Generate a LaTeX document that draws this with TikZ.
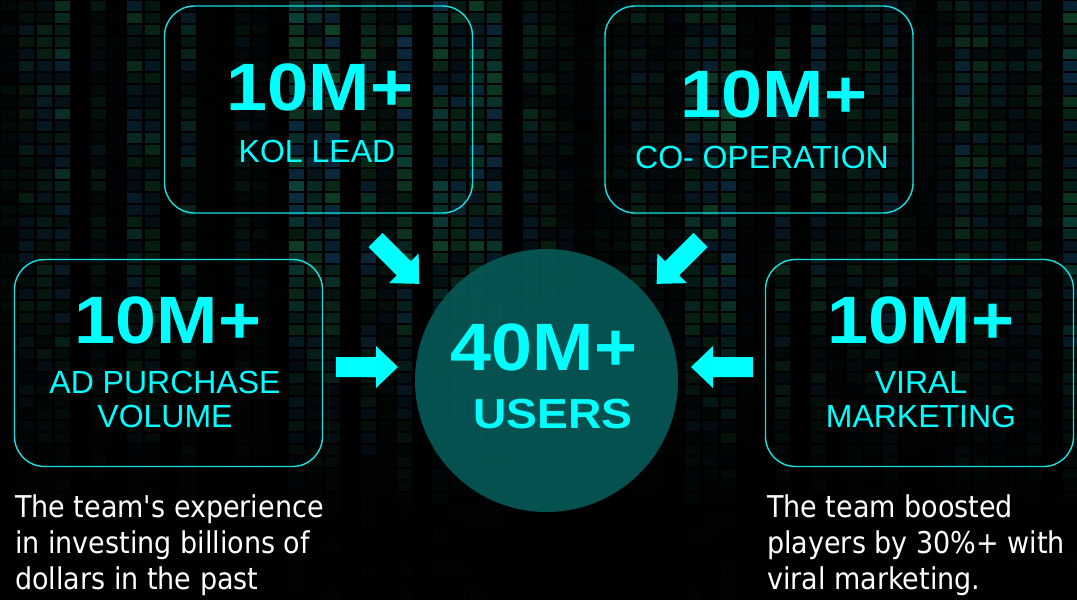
\documentclass[tikz,border=0pt]{standalone}
\usepackage{fontspec}
\setmainfont{Liberation Sans}
\newfontfamily\bignum{Liberation Sans}[FakeStretch=1.1]
\newfontfamily\notefont{DejaVu Sans Condensed}
\definecolor{aqua}{RGB}{0,255,255}
\definecolor{frame}{RGB}{20,225,225}
\definecolor{hubfill}{RGB}{6,88,86}
\definecolor{tile1}{RGB}{20,115,100}
\definecolor{tile2}{RGB}{25,120,70}
\definecolor{tile3}{RGB}{20,85,125}
\tikzset{
  card/.style={draw=frame, line width=1.4pt, rounded corners=30pt,
    minimum width=308pt, minimum height=207pt, inner sep=0pt},
  hub/.style={circle, fill=hubfill, fill opacity=0.92, minimum size=263pt, inner sep=0pt},
  figure/.style={text=aqua, font=\bignum\bfseries\fontsize{67}{70}\selectfont, inner sep=0pt},
  caption/.style={text=aqua, font=\fontsize{32}{34}\selectfont, align=center, inner sep=0pt},
  note/.style={text=white, font=\notefont\fontsize{30}{36}\selectfont, align=left, inner sep=0pt},
  fatarrow/.pic={\fill[aqua] (0,-10) -- (40,-10) -- (40,-21) -- (62,0) -- (40,21) -- (40,10) -- (0,10) -- cycle;}
}
\begin{document}
\begin{tikzpicture}[x=1pt,y=-1pt]
\useasboundingbox (0,0) rectangle (1077,600);
% dark backdrop with a faint grid of glowing tiles
\fill[black] (0,0) rectangle (1077,600);
\pgfmathsetseed{4242}
\foreach \c in {0,...,59}{
  \pgfmathsetmacro\colw{rnd^1.4}
  \foreach \r in {0,...,49}{
    \pgfmathsetmacro\fade{min(1,max(0.05,(520-\r*12)/280))}
    \pgfmathsetmacro\lvl{int(58*\colw*(0.35+0.65*rnd)*\fade)}
    \pgfmathrandominteger{\k}{1}{3}
    \fill[tile\k!\lvl!black] (\c*18+1,\r*12+1) rectangle ++(15,10);
  }
}
% the four source cards
\node[card] (kol)   at (318.5,109.5) {};
\node[card] (coop)  at (759,109.5) {};
\node[card] (ad)    at (168.5,363) {};
\node[card] (viral) at (919.5,363) {};
% the central total
\node[hub] (hub) at (546.5,380.5) {};
% block arrows pointing at the hub
\coordinate (tkol)   at (375.5,240);
\coordinate (tcoop)  at (700.5,240);
\coordinate (tad)    at (336,367);
\coordinate (tviral) at (753,367);
\pic[rotate=-45]  at (tkol)   {fatarrow};
\pic[rotate=-135] at (tcoop)  {fatarrow};
\pic[rotate=0]    at (tad)    {fatarrow};
\pic[rotate=180]  at (tviral) {fatarrow};
% card texts (multi-line nodes sit on the baseline of their last line)
\node[figure, anchor=base] (kolnum) at (320,110) {10M+};
\node[caption, anchor=base] (kollab) at (317,162) {KOL LEAD};
\node[figure, anchor=base] (coopnum) at (774,117) {10M+};
\node[caption, anchor=base] (cooplab) at (762,168) {CO- OPERATION};
\node[figure, anchor=base] (adnum) at (168,343) {10M+};
\node[caption, anchor=base] (adlab) at (165,427) {AD PURCHASE\\VOLUME};
\node[figure, anchor=base] (viralnum) at (921,343) {10M+};
\node[caption, anchor=base] (virallab) at (921,427) {VIRAL\\MARKETING};
% hub texts
\node[figure, anchor=base] (hubnum) at (544,370) {40M+};
\node[figure, anchor=base, font=\bignum\bfseries\fontsize{42}{44}\selectfont] (hublab) at (553,428) {USERS};
% notes under the lower cards
\node[note, anchor=base west] (noteL) at (15,589) {The team's experience\\in investing billions of\\dollars in the past};
\node[note, anchor=base west] (noteR) at (767,589) {The team boosted\\players by 30\%+ with\\viral marketing.};
\end{tikzpicture}
\end{document}
